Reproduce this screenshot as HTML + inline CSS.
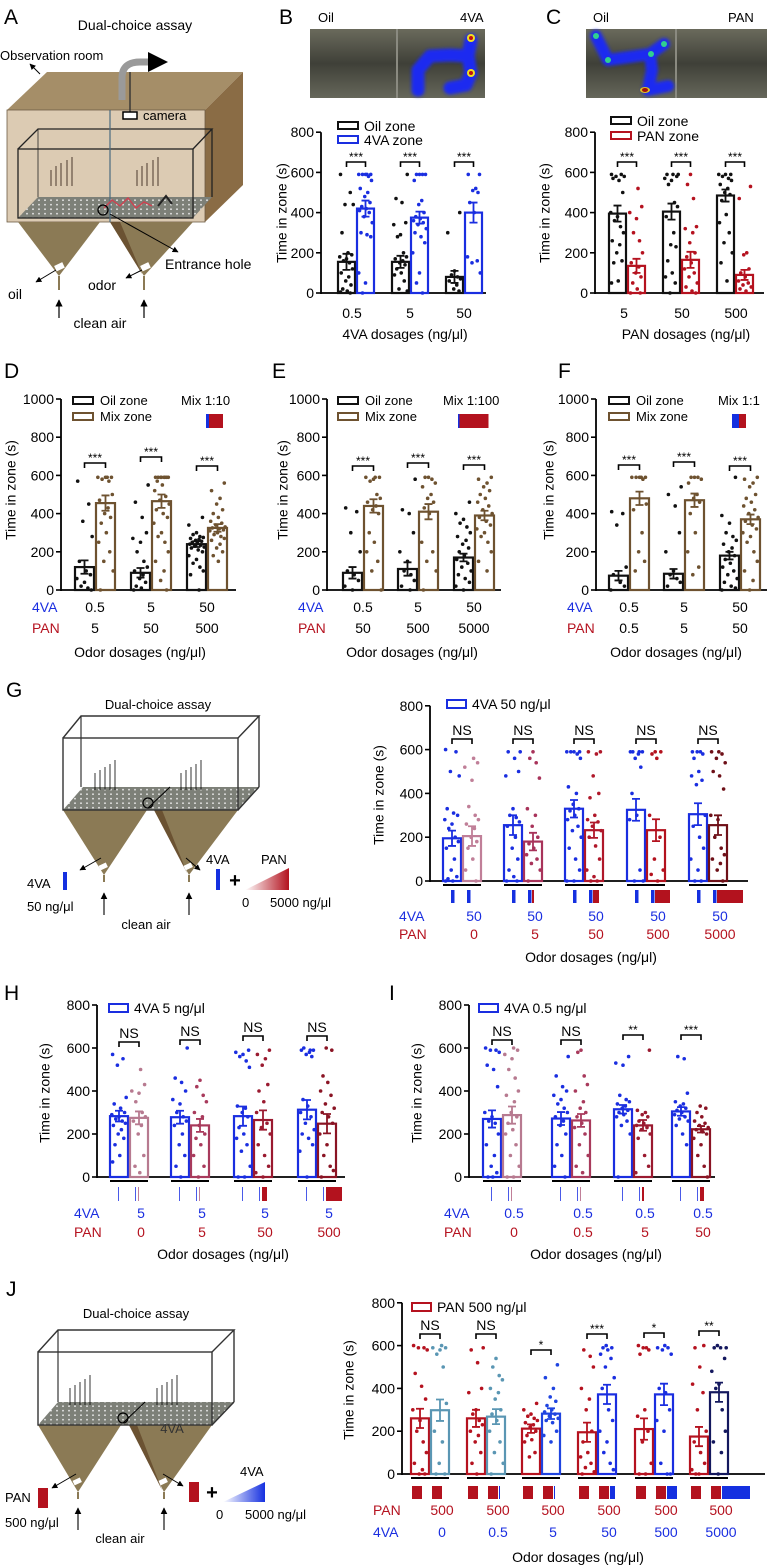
<!DOCTYPE html>
<html><head><meta charset="utf-8">
<style>
html,body{margin:0;padding:0;background:#fff;}
svg{display:block;font-family:"Liberation Sans",Arial,sans-serif;}
</style></head>
<body>
<svg id="fig" width="767" height="1567" viewBox="0 0 767 1567" xmlns="http://www.w3.org/2000/svg">
<defs>
<pattern id="dots" width="6" height="4.5" patternUnits="userSpaceOnUse"><rect width="6" height="4.5" fill="#7d8078"/><circle cx="3" cy="2.2" r="0.9" fill="#e8e8e8"/></pattern>
<linearGradient id="panGrad" x1="0" x2="1" y1="0" y2="0"><stop offset="0" stop-color="#ffffff"/><stop offset="1" stop-color="#b3121e"/></linearGradient>
<linearGradient id="vaGrad" x1="0" x2="1" y1="0" y2="0"><stop offset="0" stop-color="#ffffff"/><stop offset="1" stop-color="#1530e0"/></linearGradient>
<linearGradient id="hmBg" x1="0" x2="0" y1="0" y2="1"><stop offset="0" stop-color="#6a6a5c"/><stop offset="0.5" stop-color="#3f4038"/><stop offset="1" stop-color="#66675a"/></linearGradient>
<filter id="blur" x="-20%" y="-20%" width="140%" height="140%"><feGaussianBlur stdDeviation="1.6"/></filter>
<marker id="ah" viewBox="0 0 10 10" refX="9" refY="5" markerWidth="6" markerHeight="6" orient="auto"><path d="M0,0 L10,5 L0,10 z" fill="#000"/></marker>
</defs>

<g font-size="21" fill="#000">
<text x="4" y="24">A</text>
<text x="279" y="24">B</text>
<text x="546" y="24">C</text>
<text x="4" y="378">D</text>
<text x="272" y="378">E</text>
<text x="558" y="378">F</text>
<text x="6" y="697">G</text>
<text x="4" y="1000">H</text>
<text x="389" y="1000">I</text>
<text x="6" y="1296">J</text>
</g>

<g id="schemA">
<text x="135" y="30" font-size="14" text-anchor="middle">Dual-choice assay</text>
<polygon points="7,110 47,72 243,72 205,110" fill="#a58e68"/>
<polygon points="205,110 243,72 243,185 205,222" fill="#8a6c45"/>
<rect x="7" y="110" width="198" height="112" fill="#dccbb3" stroke="#6d5c45" stroke-width="0.8"/>
<polygon points="18,218 38,197 212,197 193,218" fill="url(#dots)"/>
<rect x="18" y="149" width="175" height="69" fill="none" stroke="#222" stroke-width="1.3"/>
<polyline points="18,149 38,129 212,129 193,149" fill="none" stroke="#222" stroke-width="1.3"/>
<line x1="212" y1="129" x2="212" y2="197" stroke="#222" stroke-width="1.3"/>
<line x1="38" y1="129" x2="38" y2="197" stroke="#222" stroke-width="0.8"/>
<line x1="110" y1="110" x2="110" y2="222" stroke="#4a6a80" stroke-width="1.2"/>
<path d="M122,100 L122,78 Q122,62 140,62 L150,62" fill="none" stroke="#9a9a9a" stroke-width="7"/>
<polygon points="148,52 168,62 148,72" fill="#000"/>
<line x1="130" y1="72" x2="130" y2="112" stroke="#333" stroke-width="1.4"/>
<rect x="123" y="112" width="14" height="7" fill="#fff" stroke="#000" stroke-width="1.5"/>
<text x="143" y="120" font-size="13">camera</text>
<text x="0" y="60" font-size="13">Observation room</text>
<line x1="40" y1="74" x2="30" y2="64" stroke="#000" marker-end="url(#ah)"/>
<polygon points="18,222 100,222 59,276" fill="#8b7a55"/>
<polygon points="110,222 193,222 144,276" fill="#8b7a55"/>
<polygon points="110,222 120,222 142,274" fill="#6b5232"/>
<rect x="55" y="264" width="9" height="6" fill="#fff" transform="rotate(-25 59 267)"/>
<rect x="141" y="264" width="9" height="6" fill="#fff" transform="rotate(-25 145 267)"/>
<line x1="59" y1="276" x2="59" y2="290" stroke="#8b7a55" stroke-width="2"/>
<line x1="144" y1="276" x2="144" y2="290" stroke="#8b7a55" stroke-width="2"/>
<g stroke="#000" stroke-width="1"><line x1="56" y1="270" x2="36" y2="282" marker-end="url(#ah)"/><line x1="142" y1="270" x2="126" y2="278" marker-end="url(#ah)"/><line x1="110" y1="214" x2="178" y2="252" marker-end="url(#ah)"/></g>
<text x="8" y="299" font-size="14">oil</text>
<text x="88" y="290" font-size="14">odor</text>
<text x="165" y="269" font-size="14">Entrance hole</text>
<g stroke="#000" stroke-width="1.2"><line x1="59" y1="318" x2="59" y2="300" marker-end="url(#ah)"/><line x1="144" y1="318" x2="144" y2="300" marker-end="url(#ah)"/></g>
<text x="100" y="328" font-size="14" text-anchor="middle">clean air</text>
<g stroke="#3a2a20" stroke-width="0.9">
<line x1="51" y1="186" x2="51" y2="170"/><line x1="56" y1="186" x2="56" y2="166"/><line x1="61" y1="186" x2="61" y2="163"/><line x1="67" y1="186" x2="67" y2="160"/><line x1="72" y1="186" x2="72" y2="157"/>
<line x1="137" y1="186" x2="137" y2="170"/><line x1="142" y1="186" x2="142" y2="166"/><line x1="147" y1="186" x2="147" y2="163"/><line x1="153" y1="186" x2="153" y2="160"/><line x1="158" y1="186" x2="158" y2="157"/>
</g>
<path d="M104,208 L112,200 L120,206 L128,198 L136,208 L144,202 L152,206" fill="none" stroke="#d04050" stroke-width="1.4"/>
<circle cx="103" cy="210" r="5" fill="none" stroke="#000" stroke-width="1.3"/>
<path d="M158,206 L166,196 L172,204" fill="none" stroke="#222" stroke-width="2"/>
</g>

<g>
<text x="318" y="22" font-size="13">Oil</text>
<text x="460" y="22" font-size="13">4VA</text>
<rect x="310" y="29" width="175" height="69" fill="url(#hmBg)"/>
<line x1="397" y1="29" x2="397" y2="98" stroke="#8a8a80" stroke-width="2"/>
<path d="M418,90 L418,70 L430,56 L450,55 L468,56 L471,40 M468,56 L471,73 L466,85 L450,88" fill="none" stroke="#1c2cf0" stroke-width="13" stroke-linecap="round" stroke-linejoin="round" filter="url(#blur)"/>
<circle cx="471" cy="38" r="4" fill="#f0e020"/><circle cx="471" cy="38" r="2" fill="#c01010"/>
<circle cx="471" cy="73" r="4" fill="#f0e020"/><circle cx="471" cy="73" r="2" fill="#c01010"/>
</g>
<g>
<text x="593" y="22" font-size="13">Oil</text>
<text x="728" y="22" font-size="13">PAN</text>
<rect x="586" y="29" width="181" height="69" fill="url(#hmBg)"/>
<line x1="676" y1="29" x2="676" y2="98" stroke="#8a8a80" stroke-width="2"/>
<path d="M596,36 L608,60 L650,54 L664,44 M650,54 L652,70 L648,90 L668,86" fill="none" stroke="#1c2cf0" stroke-width="12" stroke-linecap="round" stroke-linejoin="round" filter="url(#blur)"/>
<circle cx="596" cy="36" r="3" fill="#30d090"/><circle cx="608" cy="60" r="3" fill="#30d090"/><circle cx="651" cy="54" r="3" fill="#30d090"/><circle cx="664" cy="44" r="3" fill="#30d090"/>
<ellipse cx="645" cy="90" rx="5" ry="3" fill="#e0c020"/><ellipse cx="645" cy="90" rx="3" ry="2" fill="#a01010"/>
</g>

<g>
<text x="158" y="709" font-size="13" text-anchor="middle">Dual-choice assay</text>
<polygon points="63,810 147,810 104,875" fill="#8b7a55"/>
<polygon points="154,810 238,810 189,875" fill="#8b7a55"/>
<polygon points="154,810 162,810 187,873" fill="#6b5232"/>
<line x1="104" y1="875" x2="104" y2="882" stroke="#8b7a55" stroke-width="2"/>
<line x1="189" y1="875" x2="189" y2="882" stroke="#8b7a55" stroke-width="2"/>
<polygon points="63,810 83,787 259,787 238,810" fill="url(#dots)"/>
<rect x="63" y="738" width="175" height="72" fill="none" stroke="#333" stroke-width="1.4"/>
<polyline points="63,738 81,716 259,716 238,738" fill="none" stroke="#333" stroke-width="1.4"/>
<line x1="259" y1="716" x2="259" y2="787" stroke="#333" stroke-width="1.4"/>
<line x1="81" y1="716" x2="81" y2="787" stroke="#333" stroke-width="1.2"/>
<line x1="238" y1="810" x2="259" y2="787" stroke="#333" stroke-width="1.4"/>
<g stroke="#000" stroke-width="0.8">
<line x1="95" y1="790" x2="95" y2="773"/><line x1="100" y1="790" x2="100" y2="770"/><line x1="105" y1="790" x2="105" y2="767"/><line x1="110" y1="790" x2="110" y2="764"/><line x1="115" y1="790" x2="115" y2="760"/>
<line x1="181" y1="790" x2="181" y2="773"/><line x1="186" y1="790" x2="186" y2="770"/><line x1="191" y1="790" x2="191" y2="767"/><line x1="196" y1="790" x2="196" y2="764"/><line x1="201" y1="790" x2="201" y2="760"/>
</g>
<circle cx="148" cy="803" r="5" fill="none" stroke="#000" stroke-width="1.2"/><line x1="148" y1="808" x2="170" y2="787" stroke="#000"/>
<rect x="99" y="864" width="8" height="5" fill="#fff" transform="rotate(-25 103 866)"/>
<rect x="184" y="864" width="8" height="5" fill="#fff" transform="rotate(-25 188 866)"/>
<line x1="101" y1="858" x2="80" y2="870" stroke="#000" marker-end="url(#ah)"/><line x1="186" y1="858" x2="200" y2="870" stroke="#000" marker-end="url(#ah)"/>
<text x="27" y="888" font-size="13" fill="#000">4VA</text>
<rect x="63" y="872" width="4" height="18" fill="#1530e0"/>
<text x="27" y="911" font-size="13">50 ng/μl</text>
<g stroke="#000" stroke-width="1.1"><line x1="104" y1="915" x2="104" y2="893" marker-end="url(#ah)"/><line x1="189" y1="915" x2="189" y2="893" marker-end="url(#ah)"/></g>
<text x="146" y="929" font-size="13" text-anchor="middle">clean air</text>
<text x="206" y="864" font-size="13">4VA</text>
<rect x="216" y="869" width="4" height="21" fill="#1530e0"/>
<text x="235" y="887" font-size="20" font-weight="bold" text-anchor="middle">+</text>
<polygon points="245,890 289,868 289,890" fill="url(#panGrad)"/>
<text x="261" y="864" font-size="13">PAN</text>
<text x="242" y="907" font-size="13">0</text>
<text x="270" y="907" font-size="13">5000 ng/μl</text>
</g>

<g>
<text x="136" y="1318" font-size="13" text-anchor="middle">Dual-choice assay</text>
<polygon points="38,1425 121,1425 78,1492" fill="#8b7a55"/>
<polygon points="129,1425 212,1425 164,1492" fill="#8b7a55"/>
<polygon points="129,1425 137,1425 162,1490" fill="#6b5232"/>
<line x1="78" y1="1492" x2="78" y2="1499" stroke="#8b7a55" stroke-width="2"/>
<line x1="164" y1="1492" x2="164" y2="1499" stroke="#8b7a55" stroke-width="2"/>
<polygon points="38,1425 58,1402 234,1402 212,1425" fill="url(#dots)"/>
<rect x="38" y="1352" width="174" height="73" fill="none" stroke="#333" stroke-width="1.4"/>
<polyline points="38,1352 58,1330 234,1330 212,1352" fill="none" stroke="#333" stroke-width="1.4"/>
<line x1="234" y1="1330" x2="234" y2="1402" stroke="#333" stroke-width="1.4"/>
<line x1="58" y1="1330" x2="58" y2="1402" stroke="#333" stroke-width="1.2"/>
<line x1="212" y1="1425" x2="234" y2="1402" stroke="#333" stroke-width="1.4"/>
<g stroke="#000" stroke-width="0.8">
<line x1="70" y1="1405" x2="70" y2="1388"/><line x1="75" y1="1405" x2="75" y2="1385"/><line x1="80" y1="1405" x2="80" y2="1382"/><line x1="85" y1="1405" x2="85" y2="1379"/><line x1="90" y1="1405" x2="90" y2="1375"/>
<line x1="157" y1="1405" x2="157" y2="1388"/><line x1="162" y1="1405" x2="162" y2="1385"/><line x1="167" y1="1405" x2="167" y2="1382"/><line x1="172" y1="1405" x2="172" y2="1379"/><line x1="177" y1="1405" x2="177" y2="1375"/>
</g>
<circle cx="123" cy="1418" r="5" fill="none" stroke="#000" stroke-width="1.2"/><line x1="123" y1="1423" x2="145" y2="1402" stroke="#000"/>
<text x="172" y="1433" font-size="13" text-anchor="middle" fill="#333">4VA</text>
<rect x="73" y="1479" width="8" height="5" fill="#fff" transform="rotate(-25 77 1481)"/>
<rect x="159" y="1479" width="8" height="5" fill="#fff" transform="rotate(-25 163 1481)"/>
<line x1="76" y1="1474" x2="52" y2="1488" stroke="#000" marker-end="url(#ah)"/><line x1="163" y1="1474" x2="183" y2="1486" stroke="#000" marker-end="url(#ah)"/>
<text x="5" y="1502" font-size="13">PAN</text>
<rect x="38" y="1488" width="10" height="20" fill="#b3121e"/>
<text x="5" y="1527" font-size="13">500 ng/μl</text>
<g stroke="#000" stroke-width="1.1"><line x1="78" y1="1530" x2="78" y2="1508" marker-end="url(#ah)"/><line x1="164" y1="1530" x2="164" y2="1508" marker-end="url(#ah)"/></g>
<text x="120" y="1543" font-size="13" text-anchor="middle">clean air</text>
<rect x="189" y="1482" width="10" height="20" fill="#b3121e"/>
<text x="212" y="1499" font-size="20" font-weight="bold" text-anchor="middle">+</text>
<polygon points="223,1502 265,1482 265,1502" fill="url(#vaGrad)"/>
<text x="240" y="1476" font-size="13">4VA</text>
<text x="216" y="1519" font-size="13">0</text>
<text x="245" y="1519" font-size="13">5000 ng/μl</text>
</g>

<g id="charts"></g>
</svg>

<script>
// ---------- DATA ----------
const bOilMeans=[155,155,80], bOilSems=[40,30,30];
const b4vaMeans=[420,375,400], b4vaSems=[40,30,50];
const bOilDots=[[590,500,440,440,300,200,190,180,170,160,150,120,100,80,60,40,20,10,5,0],[590,470,450,350,340,290,280,200,180,170,160,150,140,120,100,90,60,20,10],[400,300,110,90,80,70,60,40,20,10]];
const b4vaDots=[[590,590,590,590,590,580,560,520,500,480,450,430,420,410,400,380,350,300,290,280,100,50,0],[590,590,590,590,560,460,440,400,380,370,360,350,340,320,300,280,250,200,100,50,0],[590,590,520,510,500,450,400,180,160,150,100]];
const bTicks=["0.5","5","50"];
const cOilMeans=[395,405,485], cOilSems=[40,40,30];
const cPanMeans=[135,165,90], cPanSems=[35,40,25];
const cOilDots=[[590,590,580,580,570,560,500,400,380,360,330,300,260,240,200,160,150,60,50],[590,590,590,580,570,560,540,450,430,380,300,240,230,160,100,80,50,0],[590,590,590,580,570,560,540,520,500,490,460,390,350,300,250,200,150,60]];
const cPanDots=[[520,430,400,370,300,260,200,150,130,100,80,50,20,0,0],[590,540,470,330,320,300,250,200,180,150,120,100,80,50,30,10,0],[530,470,200,190,120,100,80,60,50,40,30,20,10]];
const cTicks=["5","50","500"];
const dOilMeans=[120,90,240], dOilSems=[35,25,15];
const dMixMeans=[455,465,325], dMixSems=[40,35,20];
const dOilDots=[[570,450,360,280,150,100,80,60,40,20,10,0],[550,460,380,300,270,250,200,150,120,100,80,60,40,20,10,0],[380,340,300,290,280,275,270,265,260,255,250,245,240,235,230,225,220,210,200,180,160,140,120,100,80,0]];
const dMixDots=[[590,590,590,590,580,570,500,470,430,400,380,350,300,250,200,150,100,0],[590,590,590,590,590,590,590,590,570,550,520,490,470,450,420,400,380,350,300,280,250,200,150,100,50,0],[560,520,480,450,420,400,380,360,350,340,330,325,320,315,310,300,290,280,270,260,240,220,200,180,150]];
const d4va=["0.5","5","50"], dPan=["5","50","500"];
const eOilMeans=[90,110,170], eOilSems=[30,35,20];
const eMixMeans=[440,410,390], eMixSems=[35,40,25];
const eOilDots=[[430,410,300,200,100,80,50,20,0],[580,420,400,300,200,150,100,80,50,20,0],[460,400,370,350,330,300,280,260,240,220,200,180,160,140,120,100,80,60,40,20,0]];
const eMixDots=[[590,590,590,580,570,500,480,460,440,420,400,300,250,200,150,100,0],[590,590,580,560,540,500,480,460,430,400,250,200,150,100,0],[590,580,560,540,520,500,480,460,440,420,400,380,360,340,320,300,280,250,200,150,100]];
const e4va=["0.5","5","50"], ePan=["50","500","5000"];
const fOilMeans=[75,85,180], fOilSems=[25,25,20];
const fMixMeans=[480,470,370], fMixSems=[35,35,25];
const fOilDots=[[410,400,340,120,80,40,20,0],[540,500,440,300,200,100,80,60,40,20],[590,390,350,300,280,260,240,220,200,180,160,140,120,100,80,60,40,20,10,0]];
const fMixDots=[[590,590,590,590,590,580,450,420,300,200,150,100],[590,590,590,580,560,500,480,460,400,300,200,120,80],[590,580,560,540,500,480,460,440,420,400,380,360,340,320,300,280,250,200,150,100,50,0]];
const f4va=["0.5","5","50"], fPan=["0.5","5","50"];
const gBlueMeans=[195,255,330,325,305], gBlueSems=[35,45,40,50,50];
const gRedMeans=[205,180,232,232,255], gRedSems=[45,40,35,50,45];
const gBlueDots=[[600,590,500,480,330,310,300,280,260,240,200,180,150,100,50,20,10,0,0],[590,590,560,500,480,330,300,290,270,250,200,150,100,50,20,0,0],[590,590,590,590,580,560,430,400,350,330,320,300,280,250,230,200,150,100,50,0,0],[590,590,590,590,580,560,520,400,300,280,50,0,0],[590,590,590,580,560,500,480,460,440,300,250,200,150,100,50,0,0]];
const gRedDots=[[560,540,520,460,340,300,280,260,240,200,180,150,100,50,0],[590,560,540,470,330,300,250,200,170,150,120,100,80,50,0],[590,590,580,480,400,380,300,280,270,250,230,200,160,100,50,20,0,0],[590,590,580,560,300,200,100,50,30,0],[590,590,580,560,540,500,480,420,300,280,200,150,120,100,80,50,0]];
const g4va=["50","50","50","50","50"], gPan=["0","5","50","500","5000"];
const gSig=["NS","NS","NS","NS","NS"];
const hBlueMeans=[283,278,283,313], hBlueSems=[25,30,45,45];
const hRedMeans=[275,240,265,248], hRedSems=[30,30,45,45];
const hBlueDots=[[570,550,520,370,340,320,300,290,280,270,260,250,240,220,200,180,150,100,70],[600,460,440,400,360,340,300,280,260,240,200,150,100,50,0],[590,580,570,560,540,510,330,320,300,280,230,200,180,150,120,50,0,0],[600,590,590,590,580,570,560,360,330,300,280,250,220,200,180,150,120,0]];
const hRedDots=[[500,430,400,390,350,300,280,260,240,200,100,50,20],[450,420,380,350,300,280,240,200,180,150,100,50,0],[590,570,550,520,430,400,350,300,250,230,200,150,100,50,20,0],[600,590,470,440,400,380,340,320,300,280,250,200,150,100,50,30,0]];
const h4va=["5","5","5","5"], hPan=["0","5","50","500"];
const hSig=["NS","NS","NS","NS"];
const iBlueMeans=[270,272,315,305], iBlueSems=[40,30,20,20];
const iRedMeans=[288,263,240,222], iRedSems=[40,30,25,15];
const iBlueDots=[[600,590,590,580,520,500,420,300,280,260,250,200,150,100,50,20,0,0],[560,470,420,400,380,360,340,320,300,280,260,240,200,150,100,50,0],[560,530,520,380,360,350,340,330,320,310,300,290,280,260,240,200,0],[560,550,390,350,340,330,320,310,300,290,280,270,260,240,200,150]];
const iRedDots=[[600,590,570,550,500,460,400,380,350,300,280,250,220,200,150,100,50,0,0],[590,580,470,430,400,350,320,300,280,250,230,200,150,100,50,20],[590,310,300,290,280,260,250,240,230,220,200,180,100,50,20],[330,320,300,280,260,250,240,230,220,210,200,180,150,100,50,0]];
const i4va=["0.5","0.5","0.5","0.5"], iPan=["0","0.5","5","50"];
const iSig=["NS","NS","**","***"];
const jRedMeans=[260,260,212,195,210,175], jRedSems=[45,40,20,45,50,45];
const jBlueMeans=[298,268,282,372,372,382], jBlueSems=[50,35,25,45,50,45];
const jRedDots=[[600,590,590,580,470,410,350,300,250,200,150,100,50,20,0,0],[590,580,520,400,380,300,280,250,230,200,180,150,100,50,0],[330,300,280,270,260,250,240,230,220,200,180,160,150,100,80],[580,550,500,400,350,300,200,150,100,80,50,30,10,0],[600,590,590,580,560,300,270,200,150,50,0,0],[600,590,500,420,380,300,200,150,100,50,20,0,0]];
const jBlueDots=[[600,590,590,580,560,500,330,200,150,50,0,0],[540,500,460,440,400,380,350,300,280,250,200,150,100,50,0],[510,450,400,360,340,320,300,290,280,270,260,250,240,200,180,150],[600,590,590,580,560,540,500,450,400,300,250,200,150,100,50,20],[600,590,590,580,560,400,380,300,250,200,50,0,0],[600,590,590,590,540,480,420,400,300,200,150,100,0]];
const jPan=["500","500","500","500","500","500"], j4va=["0","0.5","5","50","500","5000"];
const jSig=["NS","NS","*","***","*","**"];

// ---------- DRAWING ----------
const NS="http://www.w3.org/2000/svg";
const root=document.getElementById('charts');
const FS=14;
function el(tag,attrs,parent){const e=document.createElementNS(NS,tag);for(const k in attrs)e.setAttribute(k,attrs[k]);(parent||root).appendChild(e);return e;}
function txt(x,y,s,size,fill,anchor,parent){const t=el('text',{x:x,y:y,'font-size':size,fill:fill||'#000','text-anchor':anchor||'start'},parent);t.textContent=s;return t;}
const JIT=[-0.8,0.5,-0.2,0.9,-0.6,0.2,0.7,-0.9,0.0,-0.4,0.4,0.8,-0.7,0.3,-0.1,0.6,-0.5,0.1];
const BLUE="#1a2ee0",RED="#b5121f",BLK="#111",BROWN="#6e5230";

function drawChart(c){
  const g=el('g',{});
  
  
  const Y=v=>c.y0-v*c.k;
  const ya=el('line',{x1:c.ax,y1:c.y0+1,x2:c.ax,y2:Y(c.ymax),stroke:'#000','stroke-width':1.8},g);
  
  
  for(let v=0;v<=c.ymax;v+=c.step){
    el('line',{x1:c.ax-5,y1:Y(v),x2:c.ax,y2:Y(v),stroke:'#000','stroke-width':1.6},g);
    const t=txt(c.ax-7,Y(v)+5,String(v),FS,'#000','end',g);
    
    
  }
  const xa=el('line',{x1:c.ax,y1:c.y0,x2:c.xEnd,y2:c.y0,stroke:'#000','stroke-width':1.8},g);
  
  
  const yt=txt(0,0,'Time in zone (s)',FS,'#000','middle',g);
  yt.setAttribute('transform','translate('+c.titleX+','+c.titleY+') rotate(-90)');
  yt.setAttribute('dominant-baseline','middle');
  
  
  c.centers.forEach((cx,i)=>{
    const sides=[c.L,c.R];
    sides.forEach((s,si)=>{
      const col=s.colors[i];
      const bx=si? cx+1 : cx-1-c.bw;
      const bc=bx+c.bw/2;
      s.dots[i].forEach((v,j)=>{
        const d=el('circle',{cx:bc+JIT[(j+i*3+si*5)%JIT.length]*(c.bw/2-1),cy:Y(v),r:1.8,fill:col},g);
        
        
      });
      const m=s.means[i], se=s.sems[i];
      const b=el('rect',{x:bx,y:Y(m),width:c.bw,height:c.y0-Y(m),fill:'none',stroke:col,'stroke-width':2.2},g);
      
      
      const eb=el('path',{d:'M'+bc+','+Y(m-se)+'V'+Y(m+se)+'M'+(bc-4)+','+Y(m+se)+'H'+(bc+4)+'M'+(bc-4)+','+Y(m-se)+'H'+(bc+4),stroke:col,'stroke-width':1.8,fill:'none'},g);
      
      
    });
    if(c.sig){
      const by=c.brY[i], l=cx-c.bw/2-1, r=cx+c.bw/2+1;
      const br=el('path',{d:'M'+l+','+(by+5)+'V'+by+'H'+r+'V'+(by+5),fill:'none',stroke:'#000','stroke-width':1.6},g);
      
      
      const st=txt(cx,c.sig[i]==='NS'?by-4:by-1,c.sig[i],c.sig[i]==='NS'?14:12,'#000','middle',g);
      
      
    }
    if(c.underline){
      const u=el('line',{x1:cx-c.bw-1,y1:c.y0+4,x2:cx+c.bw+1,y2:c.y0+4,stroke:'#000','stroke-width':2},g);
      
      
    }
  });
  return g;
}
function rep(v,n){return Array(n).fill(v);}

const gB=drawChart({name:'chart-b',ax:321,y0:293,k:0.201,ymax:800,step:200,xEnd:486,centers:[356,410,464],bw:17,titleX:283,titleY:213,
  L:{key:'oil',means:bOilMeans,sems:bOilSems,dots:bOilDots,colors:rep(BLK,3)},R:{key:'4va',means:b4vaMeans,sems:b4vaSems,dots:b4vaDots,colors:rep(BLUE,3)},
  sig:["***","***","***"],brY:[162,162,162]});
bTicks.forEach((s,i)=>{const t=txt([352,410,464][i],318,s,FS,'#000','middle',gB);});
const bxt=txt(405,339,'4VA dosages (ng/μl)',FS,'#000','middle',gB);


const gC=drawChart({name:'chart-c',ax:595,y0:293,k:0.201,ymax:800,step:200,xEnd:764,centers:[627,681,735],bw:17,titleX:546,titleY:213,
  L:{key:'oil',means:cOilMeans,sems:cOilSems,dots:cOilDots,colors:rep(BLK,3)},R:{key:'pan',means:cPanMeans,sems:cPanSems,dots:cPanDots,colors:rep(RED,3)},
  sig:["***","***","***"],brY:[162,162,162]});
cTicks.forEach((s,i)=>{const t=txt([624,682,736][i],318,s,FS,'#000','middle',gC);});
const cxt=txt(686,339,'PAN dosages (ng/μl)',FS,'#000','middle',gC);



function legendBox(x,y,w,h,col,label,tx,ty,size,par){
  const r=el('rect',{x:x,y:y,width:w,height:h,fill:'none',stroke:col,'stroke-width':2},par);
  
  
  const t=txt(tx,ty,label,size||13,'#000','start',par);
  
  
}
legendBox(338,122,20,7,BLK,'Oil zone',364,131,14,gB);
legendBox(338,136,20,7,BLUE,'4VA zone',364,145,14,gB);
legendBox(611,117,20,7,BLK,'Oil zone',637,126,14,gC);
legendBox(611,132,20,7,RED,'PAN zone',637,141,14,gC);

function mixChart(name,ax,centers,xEnd,titleX,oilM,oilS,oilD,mixM,mixS,mixD,brY,va,pan,odorX,legX,mixLabel,mixX,icon){
  const g=drawChart({name:name,ax:ax,y0:590,k:0.191,ymax:1000,step:200,xEnd:xEnd,centers:centers,bw:19,titleX:titleX,titleY:490,
    L:{key:'oil',means:oilM,sems:oilS,dots:oilD,colors:rep(BLK,3)},R:{key:'mix',means:mixM,sems:mixS,dots:mixD,colors:rep(BROWN,3)},
    sig:["***","***","***"],brY:brY});
  const l1=txt(ax-29,612,'4VA',FS,BLUE,'start',g);
  const l2=txt(ax-29,633,'PAN',FS,RED,'start',g);
  va.forEach((s,i)=>{const t=txt(centers[i],612,s,FS,'#000','middle',g);});
  pan.forEach((s,i)=>{const t=txt(centers[i],633,s,FS,'#000','middle',g);});
  const xt=txt(odorX,657,'Odor dosages (ng/μl)',FS,'#000','middle',g);
  legendBox(legX,397,20,7,BLK,'Oil zone',legX+27,405,13,g);
  legendBox(legX,413,20,7,BROWN,'Mix zone',legX+27,421,13,g);
  const mt=txt(mixX,405,mixLabel,13,'#000','start',g);
  const ib=el('rect',{x:icon[0],y:414,width:icon[1],height:14,fill:'#1530e0'},g);
  const ir=el('rect',{x:icon[0]+icon[1],y:414,width:icon[2],height:14,fill:'#b3121e'},g);
}
mixChart('chart-d',61,[95,151,207],236,12,dOilMeans,dOilSems,dOilDots,dMixMeans,dMixSems,dMixDots,[463,457,466],d4va,dPan,140,73,'Mix 1:10',181,[206,3,14]);
mixChart('chart-e',327,[363,418,474],501,284,eOilMeans,eOilSems,eOilDots,eMixMeans,eMixSems,eMixDots,[466,463,465],e4va,ePan,412,338,'Mix 1:100',443,[458,1.5,29]);
mixChart('chart-f',596,[629,684,740],767,550,fOilMeans,fOilSems,fOilDots,fMixMeans,fMixSems,fMixDots,[465,462,466],f4va,fPan,676,609,'Mix 1:1',718,[732,7,7]);

function rowsChart(g,centers,bw,leftLbl,y1,y2,r1,r2,c1,c2,labX,odorX,odorY){
  const a=txt(labX,y1,leftLbl[0],FS,c1,'start',g);
  const b=txt(labX,y2,leftLbl[1],FS,c2,'start',g);
  r1.forEach((s,i)=>{const t=txt(centers[i]+bw/2+3,y1,s,FS,c1,'middle',g);});
  r2.forEach((s,i)=>{const t=txt(centers[i]+bw/2+3,y2,s,FS,c2,'middle',g);});
  const xt=txt(odorX,odorY,'Odor dosages (ng/μl)',FS,'#000','middle',g);
}
function icon(g,x,y,w,h,col){const r=el('rect',{x:x,y:y,width:w,height:h,fill:col},g);}

const gRedCols=["#c07f98","#a8335a","#b0182a","#b3121e","#6e1018"];
const gG=drawChart({name:'chart-g',ax:430,y0:881,k:0.219,ymax:800,step:200,xEnd:748,centers:[462,523,584,646,708],bw:18,titleX:380,titleY:795,
  L:{key:'4va',means:gBlueMeans,sems:gBlueSems,dots:gBlueDots,colors:rep(BLUE,5)},R:{key:'pan',means:gRedMeans,sems:gRedSems,dots:gRedDots,colors:gRedCols},
  sig:gSig,brY:[739,739,739,739,739],underline:true});
legendBox(447,700,19,8,BLUE,'4VA 50 ng/μl',472,709,14,gG);
const gPanW=[0,2,6,15,26];
[462,523,584,646,708].forEach((c,i)=>{icon(gG,c-11,890,3.5,13,'#1530e0');icon(gG,c+5,890,3.5,13,'#1530e0');if(gPanW[i])icon(gG,c+9,890,gPanW[i],13,'#b3121e');});
rowsChart(gG,[462,523,584,646,708],18,['4VA','PAN'],921,939,g4va,gPan,BLUE,RED,399,591,962);

const hRedCols=["#b77a90","#a83a5c","#9a1a30","#8a1424"];
const hC=[129,190,253,317];
const gH=drawChart({name:'chart-h',ax:97,y0:1177,k:0.215,ymax:800,step:200,xEnd:345,centers:hC,bw:18,titleX:46,titleY:1093,
  L:{key:'4va',means:hBlueMeans,sems:hBlueSems,dots:hBlueDots,colors:rep(BLUE,4)},R:{key:'pan',means:hRedMeans,sems:hRedSems,dots:hRedDots,colors:hRedCols},
  sig:hSig,brY:[1042,1040,1036,1036],underline:true});
legendBox(109,1004,19,8,BLUE,'4VA 5 ng/μl',134,1013,14,gH);
const hPanW=[1,1,5,16];
hC.forEach((c,i)=>{icon(gH,c-11,1187,1,14,'#4a5ae8');icon(gH,c+6,1187,1,14,'#4a5ae8');icon(gH,c+9,1187,hPanW[i],14,i<2?'#c07f98':'#b3121e');});
rowsChart(gH,hC,18,['4VA','PAN'],1218,1237,h4va,hPan,BLUE,RED,74,223,1259);

const iRedCols=["#b77a90","#a83a5c","#9a1a30","#8a1424"];
const iC=[502,571,633,691];
const gI=drawChart({name:'chart-i',ax:469,y0:1177,k:0.215,ymax:800,step:200,xEnd:715,centers:iC,bw:18,titleX:418,titleY:1093,
  L:{key:'4va',means:iBlueMeans,sems:iBlueSems,dots:iBlueDots,colors:rep(BLUE,4)},R:{key:'pan',means:iRedMeans,sems:iRedSems,dots:iRedDots,colors:iRedCols},
  sig:iSig,brY:[1040,1040,1035,1035],underline:true});
legendBox(479,1004,19,8,BLUE,'4VA 0.5 ng/μl',504,1013,14,gI);
const iPanW=[1,1,2,4];
iC.forEach((c,i)=>{icon(gI,c-11,1187,1,14,'#4a5ae8');icon(gI,c+6,1187,1,14,'#4a5ae8');icon(gI,c+9,1187,iPanW[i],14,i<2?'#c07f98':'#b3121e');});
rowsChart(gI,iC,18,['4VA','PAN'],1218,1237,i4va,iPan,BLUE,RED,444,596,1259);

const jBlueCols=["#5a96b3","#5a96b3","#1f44e0","#1a2ee0","#1a2ee0","#14185e"];
const jC=[430,486,541,597,654,709];
const gJ=drawChart({name:'chart-j',ax:402,y0:1474,k:0.214,ymax:800,step:200,xEnd:765,centers:jC,bw:18,titleX:350,titleY:1390,
  L:{key:'pan',means:jRedMeans,sems:jRedSems,dots:jRedDots,colors:rep(RED,6)},R:{key:'4va',means:jBlueMeans,sems:jBlueSems,dots:jBlueDots,colors:jBlueCols},
  sig:jSig,brY:[1334,1334,1350,1334,1333,1331],underline:true});
legendBox(412,1303,19,8,RED,'PAN 500 ng/μl',437,1312,14,gJ);
const jVaW=[0,1,1,5,10,28];
jC.forEach((c,i)=>{icon(gJ,c-18,1486,10,13,'#b3121e');icon(gJ,c+2,1486,10,13,'#b3121e');if(jVaW[i])icon(gJ,c+13,1486,jVaW[i],13,'#1530e0');});
rowsChart(gJ,jC,18,['PAN','4VA'],1515,1537,jPan,j4va,RED,BLUE,373,578,1562);
</script>
</body></html>
